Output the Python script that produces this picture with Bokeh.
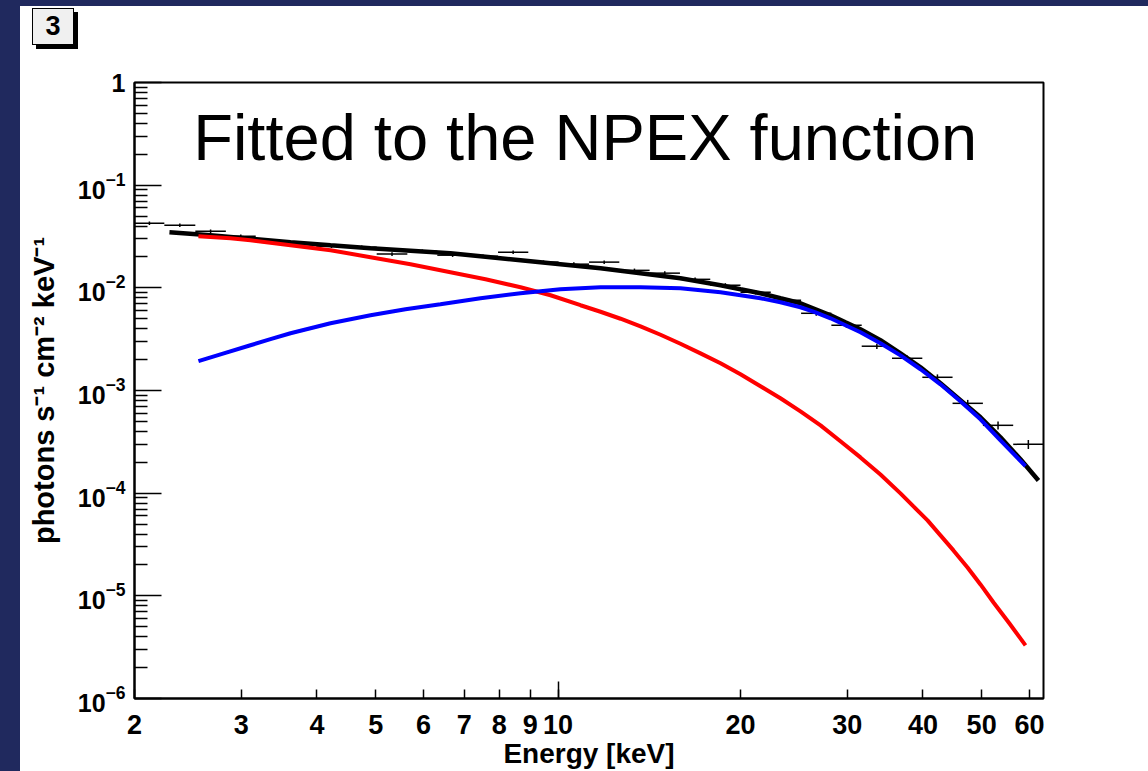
import math

from bokeh.embed import file_html
from bokeh.layouts import column
from bokeh.models import Div, FixedTicker, Label, LogTickFormatter, PrintfTickFormatter
from bokeh.plotting import figure
from bokeh.resources import INLINE

# Energy bin edges of the spectrum [keV]
bin_edges = [2.00, 2.24, 2.52, 2.83, 3.17, 3.56, 3.99, 4.48, 5.02, 5.64, 6.32,
             7.10, 7.96, 8.93, 10.02, 11.25, 12.62, 14.16, 15.89, 17.83, 20.00,
             22.44, 25.18, 28.25, 31.70, 35.57, 39.91, 44.77, 50.24, 56.37, 63.25]

# Measured photon flux per bin [photons s^-1 cm^-2 keV^-1] and its error
flux = [0.0426, 0.0407, 0.0356, 0.0318, 0.0285, 0.0272, 0.0254, 0.0249, 0.0213,
        0.0227, 0.0208, 0.0203, 0.0222, 0.0178, 0.0170, 0.0178, 0.0148, 0.0139,
        0.0121, 0.0106, 0.00906, 0.00757, 0.00565, 0.00432, 0.00270, 0.00206,
        0.001345, 0.000750, 0.000458, 0.000299]
flux_err = [0.0017, 0.0016, 0.0014, 0.0013, 0.0011, 0.0011, 0.0010, 0.0010, 0.0009,
            0.0009, 0.0008, 0.0008, 0.0009, 0.0007, 0.0007, 0.0007, 0.0006, 0.0006,
            0.0005, 0.0005, 0.00045, 0.0004, 0.0003, 0.00024, 0.00016, 0.00013,
            0.00009, 0.00006, 0.00004, 0.00003]

# NPEX model: total and its two components
total_e = [2.284, 2.669, 3.107, 3.618, 4.212, 4.904, 5.708, 6.643, 7.590, 8.671,
           10.09, 11.75, 13.68, 15.92, 18.54, 20.00, 21.58, 23.28, 25.12, 26.60,
           28.16, 29.80, 31.55, 34.04, 36.73, 39.64, 42.76, 46.13, 49.78, 53.71,
           57.95, 62.05]
total_f = [0.03482, 0.03256, 0.03011, 0.02782, 0.02601, 0.02432, 0.02299, 0.02174,
           0.02010, 0.01858, 0.01698, 0.01552, 0.01388, 0.01241, 0.01060, 0.00969,
           0.00886, 0.00792, 0.00708, 0.00619, 0.00541, 0.00462, 0.00395, 0.00309,
           0.00230, 0.00168, 0.001175, 0.000803, 0.000548, 0.000350, 0.000214,
           0.000133]

soft_e = [2.550, 2.880, 3.107, 3.618, 4.212, 4.904, 5.708, 6.643, 7.590, 8.671,
          9.717, 10.89, 11.75, 12.68, 13.68, 14.76, 15.92, 17.18, 18.54, 20.00,
          21.58, 23.28, 25.12, 27.11, 29.24, 31.55, 34.04, 36.73, 38.59, 40.71,
          42.76, 44.92, 47.39, 49.78, 52.31, 55.58, 59.07]
soft_f = [0.03184, 0.03045, 0.02910, 0.02601, 0.02325, 0.01987, 0.01698, 0.01419,
          0.01213, 0.01013, 0.00847, 0.00677, 0.00585, 0.00500, 0.00422, 0.00349,
          0.00285, 0.00230, 0.00184, 0.001438, 0.001099, 0.000840, 0.000627,
          0.000458, 0.000320, 0.000223, 0.000152, 9.96e-5, 7.43e-5, 5.43e-5,
          3.88e-5, 2.77e-5, 1.891e-5, 1.291e-5, 8.62e-6, 5.38e-6, 3.29e-6]

hard_e = [2.550, 2.773, 3.107, 3.353, 3.618, 4.212, 4.904, 5.600, 6.395, 7.448,
          8.671, 10.09, 11.75, 13.68, 15.92, 18.54, 21.58, 23.28, 25.12, 26.60,
          28.16, 29.80, 31.55, 34.04, 36.73, 39.64, 42.76, 46.13, 49.78, 53.71,
          59.07]
hard_f = [0.00193, 0.00225, 0.00276, 0.00316, 0.00361, 0.00452, 0.00541, 0.00619,
          0.00692, 0.00792, 0.00886, 0.00969, 0.01013, 0.01013, 0.00991, 0.00906,
          0.00792, 0.00724, 0.00647, 0.00578, 0.00505, 0.00432, 0.00369, 0.00288,
          0.00220, 0.00161, 0.001149, 0.000785, 0.000524, 0.000327, 0.000183]

# Axis ticks
x_ticks = [2, 3, 4, 5, 6, 7, 8, 9, 10, 20, 30, 40, 50, 60]
x_long_ticks = [10]
y_ticks = [1e-6, 1e-5, 1e-4, 1e-3, 1e-2, 1e-1, 1]
y_minor = [m * d for d in y_ticks[:-1] for m in range(2, 10)]

FONT = "Liberation Sans"
NAVY = "#20295e"

p = figure(x_axis_type="log", y_axis_type="log",
           x_range=(2, 63.25), y_range=(1e-6, 1),
           frame_width=909, frame_height=616,
           min_border_left=114, min_border_right=105,
           min_border_top=31, min_border_bottom=73,
           output_backend="svg", toolbar_location=None,
           background_fill_color="white", border_fill_color="white")
p.grid.visible = False
p.outline_line_color = "black"
p.outline_line_width = 2

xa = p.xaxis[0]
xa.ticker = FixedTicker(ticks=x_ticks, minor_ticks=x_long_ticks)
xa.formatter = PrintfTickFormatter(format="%d")
xa.axis_line_width = 2
xa.major_tick_in = 9
xa.major_tick_out = 0
xa.major_tick_line_width = 1.5
xa.minor_tick_in = 17
xa.minor_tick_out = 0
xa.minor_tick_line_width = 1.5
xa.major_label_standoff = 16
xa.major_label_text_font = FONT
xa.major_label_text_font_style = "bold"
xa.major_label_text_font_size = "27px"
xa.major_label_text_color = "black"
xa.axis_label = "Energy [keV]"
xa.axis_label_text_font = FONT
xa.axis_label_text_font_style = "bold"
xa.axis_label_text_font_size = "28px"
xa.axis_label_text_color = "black"
xa.axis_label_standoff = 1

ya = p.yaxis[0]
ya.ticker = FixedTicker(ticks=y_ticks, minor_ticks=y_minor)
ya.formatter = LogTickFormatter()
ya.major_label_overrides = {1: "1"}
ya.axis_line_width = 2
ya.major_tick_in = 27
ya.major_tick_out = 0
ya.major_tick_line_width = 1.5
ya.minor_tick_in = 13
ya.minor_tick_out = 0
ya.minor_tick_line_width = 1.5
ya.major_label_standoff = 9
ya.major_label_text_font = FONT
ya.major_label_text_font_style = "bold"
ya.major_label_text_font_size = "25px"
ya.major_label_text_color = "black"
ya.axis_label = "photons s\u207b\u00b9 cm\u207b\u00b2 keV\u207b\u00b9"
ya.axis_label_text_font = FONT
ya.axis_label_text_font_style = "bold"
ya.axis_label_text_font_size = "29px"
ya.axis_label_text_color = "black"
ya.axis_label_standoff = 15

# Data points: energy bin width and flux error
lo = bin_edges[:-1]
hi = bin_edges[1:]
mid = [math.sqrt(a * b) for a, b in zip(lo, hi)]
p.segment(x0=lo, x1=hi, y0=flux, y1=flux, line_color="black", line_width=1.5)
p.segment(x0=mid, x1=mid,
          y0=[f - e for f, e in zip(flux, flux_err)],
          y1=[f + e for f, e in zip(flux, flux_err)],
          line_color="black", line_width=1.5)

# Model curves
p.line(total_e, total_f, line_color="black", line_width=4.5)
p.line(soft_e, soft_f, line_color="#ff0000", line_width=4)
p.line(hard_e, hard_f, line_color="#0000ff", line_width=4)

p.add_layout(Label(x=2.5, y=0.29, text="Fitted to the NPEX function",
                   text_font=FONT, text_font_size="65px", text_color="black",
                   text_align="left", text_baseline="alphabetic"))

# Pad number box with drop shadow, above the plot
pad_box = Div(
    width=1128, height=45, margin=0,
    text=('<div style="margin:2px 0 0 12px;width:42px;height:37px;box-sizing:border-box;'
          'border:1.5px solid #000;background:#f0f0f0;box-shadow:4px 4px 0 #000;'
          f"font:bold 27px '{FONT}';color:#000;text-align:center;line-height:34px;\">3</div>"),
    styles={"background-color": "white"},
)

# White pad (box + plot) on a navy slide background
pad = column(pad_box, p, spacing=0, styles={"background-color": "white"})
layout = column(pad, spacing=0,
                styles={"background-color": NAVY,
                        "padding-left": "20px", "padding-top": "6px"})

open("out.html", "w").write(file_html(layout, INLINE))
